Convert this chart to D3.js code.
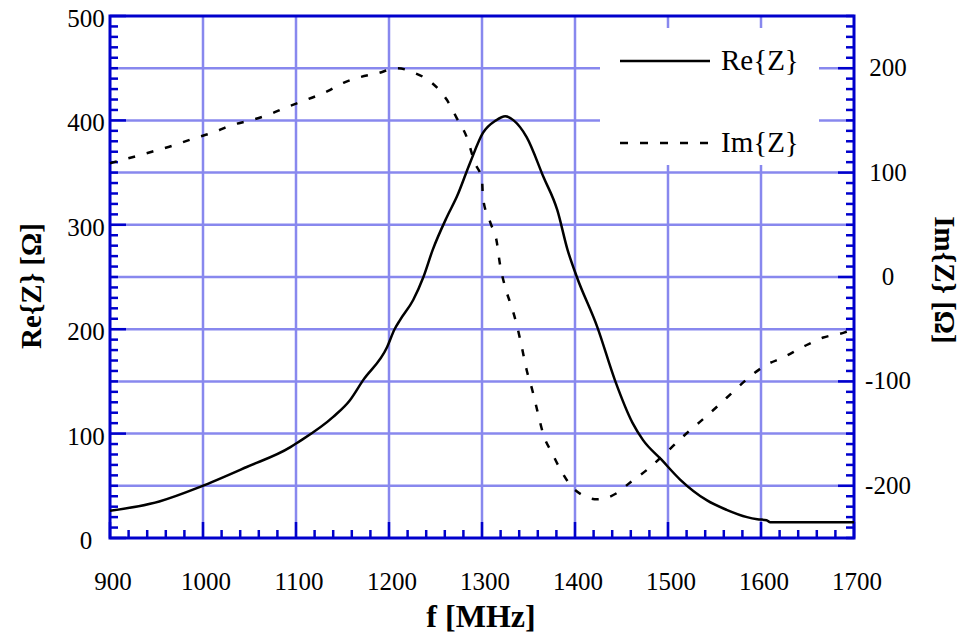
<!DOCTYPE html>
<html>
<head>
<meta charset="utf-8">
<script src="https://cdn.jsdelivr.net/npm/d3@7"></script>
<style>
    body { margin: 0; background: #fff; }
    svg text { font-family: "Liberation Serif", "Times New Roman", serif; fill: #000; }
</style>
</head>
<body>
<div id="chart"></div>
<script>
/**
 * Data.
 */
const reFreq = [900, 953, 997, 1047, 1094, 1101, 1140, 1158, 1172, 1198, 1206, 1212, 1226, 1237,
    1247, 1262, 1273, 1287, 1301, 1315, 1325, 1334, 1348, 1366, 1381, 1392, 1402, 1424, 1443,
    1462, 1473, 1493, 1513, 1542, 1563, 1585, 1596, 1606, 1610, 1700];
const reValues = [26, 35, 49, 68, 87, 91, 116, 132, 151, 183, 200, 209, 228, 250,
    276, 307, 327, 359, 388, 400, 404, 400, 384, 346, 314, 276, 250, 202, 151,
    110, 94, 75, 56, 36, 27, 20, 18, 17, 15, 15];

const imFreq = [900, 925, 945, 968, 991, 1013, 1029, 1051, 1072, 1088, 1112, 1134, 1151, 1167,
    1187, 1209, 1226, 1246, 1262, 1273, 1284, 1292, 1300, 1301, 1309, 1316, 1319, 1325, 1332,
    1338, 1343, 1348, 1354, 1360, 1366, 1375, 1386, 1400, 1424, 1445, 1459, 1477, 1497, 1516,
    1534, 1553, 1570, 1586, 1606, 1624, 1645, 1667, 1690, 1700];
const imValues = [109, 115, 120, 126, 133, 139, 145, 150, 156, 162, 170, 178, 186, 191,
    195, 200, 196, 186, 170, 152, 133, 110, 93, 76, 52, 33, 14, -10, -29,
    -48, -68, -89, -108, -130, -151, -168, -187, -204, -213, -207, -197, -185, -169, -153,
    -139, -124, -110, -97, -84, -77, -67, -58, -53, -49];

const xTicks = [900, 1000, 1100, 1200, 1300, 1400, 1500, 1600, 1700];
const leftTicks = [0, 100, 200, 300, 400, 500];
const rightTicks = [-200, -100, 0, 100, 200];
const legendLabels = ["Re{Z}", "Im{Z}"];

/**
 * Layout.
 */
const W = 968, H = 637;
const Plot = { left: 110, right: 854, top: 16, bottom: 538 };
const AxisColor = "#0000cc";
const GridColor = "#8888ee";

const x = d3.scaleLinear().domain([900, 1700]).range([Plot.left, Plot.right]);
const yL = d3.scaleLinear().domain([0, 500]).range([Plot.bottom, Plot.top]);
const yR = d3.scaleLinear().domain([-250, 250]).range([Plot.bottom, Plot.top]);

const svg = d3.select("#chart")
    .append("svg")
        .attr("width", W)
        .attr("height", H);

// Grid lines.
const grid = svg.append("g")
    .attr("stroke", GridColor)
    .attr("stroke-width", 2.5);
grid.selectAll("line.v")
    .data(d3.range(1000, 1700, 100))
    .join("line")
        .attr("x1", d => x(d)).attr("x2", d => x(d))
        .attr("y1", Plot.top).attr("y2", Plot.bottom);
grid.selectAll("line.h")
    .data(d3.range(50, 500, 50))
    .join("line")
        .attr("x1", Plot.left).attr("x2", Plot.right)
        .attr("y1", d => yL(d)).attr("y2", d => yL(d));

// Legend background hides the grid.
svg.append("rect")
    .attr("x", 600).attr("y", 28)
    .attr("width", 219).attr("height", 137)
    .attr("fill", "#fff");

// Ticks.
const ticks = svg.append("g")
    .attr("stroke", AxisColor)
    .attr("stroke-width", 2.5);
ticks.selectAll("line.l")
    .data(d3.range(0, 501, 10))
    .join("line")
        .attr("x1", Plot.left)
        .attr("x2", d => Plot.left + (d % 100 == 0 ? 16 : 8))
        .attr("y1", d => yL(d)).attr("y2", d => yL(d));
ticks.selectAll("line.r")
    .data(d3.range(-250, 251, 10))
    .join("line")
        .attr("x1", Plot.right)
        .attr("x2", d => Plot.right - (d % 100 == 0 ? 16 : 8))
        .attr("y1", d => yR(d)).attr("y2", d => yR(d));
ticks.selectAll("line.b")
    .data(d3.range(900, 1701, 20))
    .join("line")
        .attr("x1", d => x(d)).attr("x2", d => x(d))
        .attr("y1", Plot.bottom)
        .attr("y2", d => Plot.bottom - (d % 100 == 0 ? 16 : 8));

// Frame.
svg.append("rect")
    .attr("x", Plot.left).attr("y", Plot.top)
    .attr("width", Plot.right - Plot.left)
    .attr("height", Plot.bottom - Plot.top)
    .attr("fill", "none")
    .attr("stroke", AxisColor)
    .attr("stroke-width", 3);

// Tick labels.
svg.selectAll("text.xl")
    .data(xTicks)
    .join("text")
        .attr("x", d => x(d) + 3)
        .attr("y", 590)
        .attr("text-anchor", "middle")
        .style("font-size", "25px")
        .text(d => d);
svg.selectAll("text.ll")
    .data(leftTicks)
    .join("text")
        .attr("x", 86)
        .attr("y", d => yL(d) + 11)
        .attr("text-anchor", "middle")
        .style("font-size", "25px")
        .text(d => d);
svg.selectAll("text.rl")
    .data(rightTicks)
    .join("text")
        .attr("x", 888)
        .attr("y", d => yR(d) + 8)
        .attr("text-anchor", "middle")
        .style("font-size", "25px")
        .text(d => d);

// Axis titles.
svg.append("text")
    .attr("x", 481).attr("y", 627)
    .attr("text-anchor", "middle")
    .style("font-size", "32px")
    .style("font-weight", "bold")
    .text("f [MHz]");
svg.append("text")
    .attr("transform", "translate(41,286) rotate(-90)")
    .attr("text-anchor", "middle")
    .style("font-size", "29px")
    .style("font-weight", "bold")
    .text("Re{Z} [Ω]");
svg.append("text")
    .attr("transform", "translate(935,280) rotate(90)")
    .attr("text-anchor", "middle")
    .style("font-size", "29px")
    .style("font-weight", "bold")
    .text("Im{Z} [Ω]");

// Curves.
const reLine = d3.line()
    .x((d, i) => x(reFreq[i]))
    .y(d => yL(d))
    .curve(d3.curveMonotoneX);
const imLine = d3.line()
    .x((d, i) => x(imFreq[i]))
    .y(d => yR(d))
    .curve(d3.curveMonotoneX);

svg.append("path")
    .attr("d", reLine(reValues))
    .attr("fill", "none")
    .attr("stroke", "#000")
    .attr("stroke-width", 2.5);
svg.append("path")
    .attr("d", imLine(imValues))
    .attr("fill", "none")
    .attr("stroke", "#000")
    .attr("stroke-width", 2.5)
    .attr("stroke-dasharray", "7,12");

// Legend.
const legend = svg.append("g");
legend.selectAll("line")
    .data(legendLabels)
    .join("line")
        .attr("x1", 620).attr("x2", 710)
        .attr("y1", (d, i) => 61 + i * 82)
        .attr("y2", (d, i) => 61 + i * 82)
        .attr("stroke", "#000")
        .attr("stroke-width", 2.5)
        .attr("stroke-dasharray", (d, i) => i ? "8,12" : null);
legend.selectAll("text")
    .data(legendLabels)
    .join("text")
        .attr("x", 721)
        .attr("y", (d, i) => 70 + i * 82)
        .style("font-size", "29px")
        .text(d => d);
</script>
</body>
</html>
